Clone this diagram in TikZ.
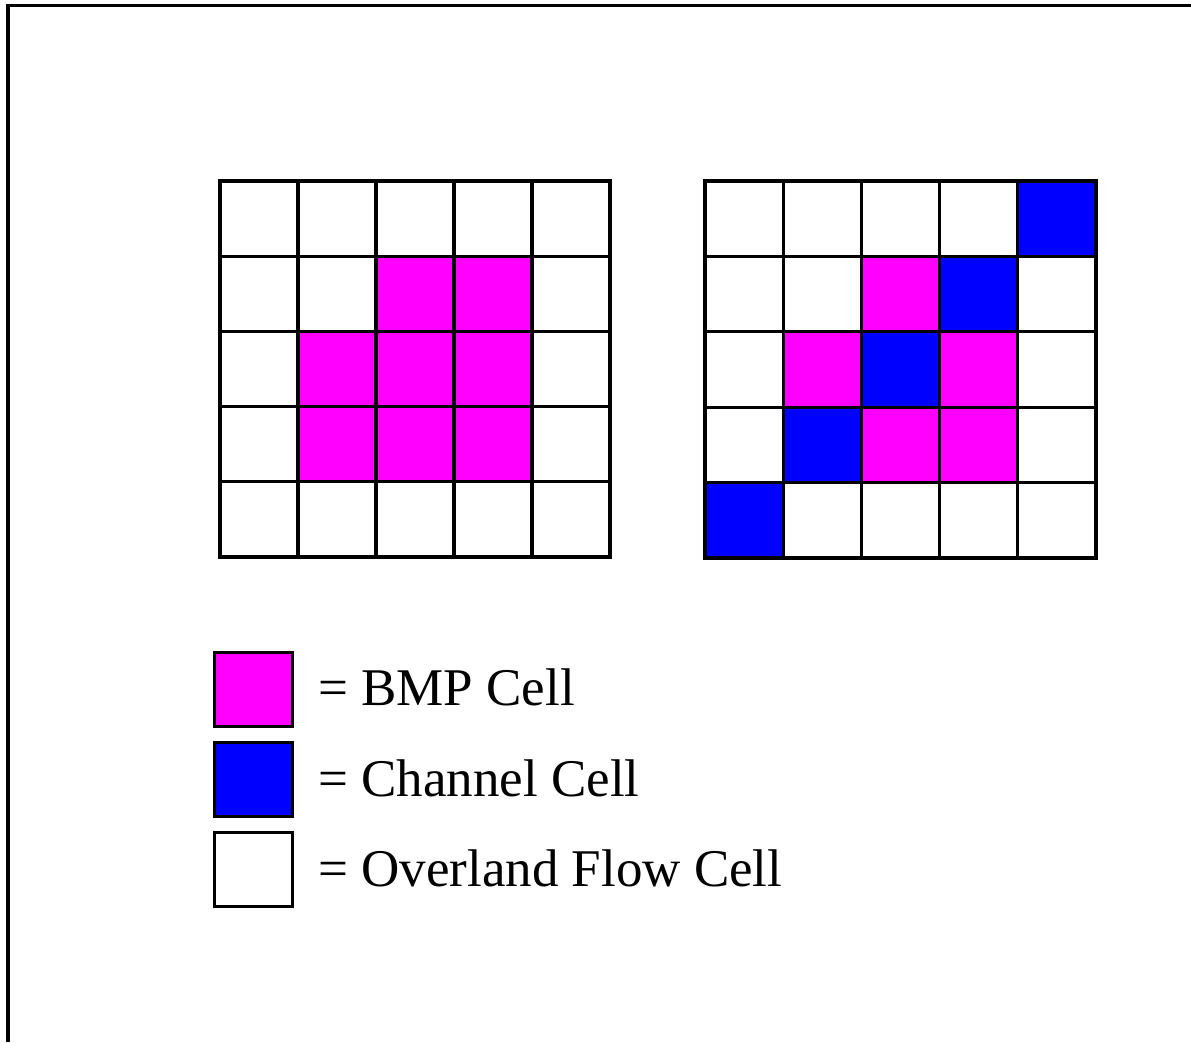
\documentclass[tikz,border=0pt]{standalone}
\usepackage{fontspec}
\setmainfont{Liberation Serif}
\definecolor{bmp}{HTML}{FF00FF}
\definecolor{chan}{HTML}{0000FF}
\begin{document}
\begin{tikzpicture}[x=1pt,y=-1pt,
  gridline/.style={line width=3.2pt,line cap=rect},
  keybox/.style={draw,line width=3pt,minimum width=78pt,minimum height=74pt,inner sep=0pt},
  keytext/.style={anchor=base west,inner sep=0pt,font=\fontsize{53}{60}\selectfont}]
\useasboundingbox (0,0) rectangle (1191,1042);
% frame (left and top edges only)
\draw[line width=3.2pt] (8,1042) -- (8,5.5) -- (1191,5.5);

% ---- left grid: BMP block ----
\def\lx{220}\def\ly{181}\def\lw{78}\def\lh{75.2}
\foreach \c/\r in {2/1,3/1,1/2,2/2,3/2,1/3,2/3,3/3}
  \fill[bmp] ({\lx+\c*\lw},{\ly+\r*\lh}) rectangle ++(\lw,\lh);
\foreach \k in {0,...,5} {
  \draw[gridline] ({\lx+\k*\lw},\ly) -- ({\lx+\k*\lw},{\ly+5*\lh});
  \draw[gridline] (\lx,{\ly+\k*\lh}) -- ({\lx+5*\lw},{\ly+\k*\lh});
}

% ---- right grid: BMP cells along a channel ----
\def\rx{705}\def\ry{181}\def\rw{78.2}\def\rh{75.4}
\foreach \c/\r in {2/1,1/2,3/2,2/3,3/3}
  \fill[bmp] ({\rx+\c*\rw},{\ry+\r*\rh}) rectangle ++(\rw,\rh);
\foreach \c/\r in {4/0,3/1,2/2,1/3,0/4}
  \fill[chan] ({\rx+\c*\rw},{\ry+\r*\rh}) rectangle ++(\rw,\rh);
\foreach \k in {0,...,5} {
  \draw[gridline] ({\rx+\k*\rw},\ry) -- ({\rx+\k*\rw},{\ry+5*\rh});
  \draw[gridline] (\rx,{\ry+\k*\rh}) -- ({\rx+5*\rw},{\ry+\k*\rh});
}

% ---- legend ----
\node[keybox,fill=bmp]   (kbmp)  at (253,689) {};
\node[keybox,fill=chan]  (kchan) at (253,779) {};
\node[keybox,fill=white] (kover) at (253,869) {};
\node[keytext] (tbmp)  at (318,705) {= BMP Cell};
\node[keytext] (tchan) at (318,796) {= Channel Cell};
\node[keytext] (tover) at (318,886) {= Overland Flow Cell};
\end{tikzpicture}
\end{document}
